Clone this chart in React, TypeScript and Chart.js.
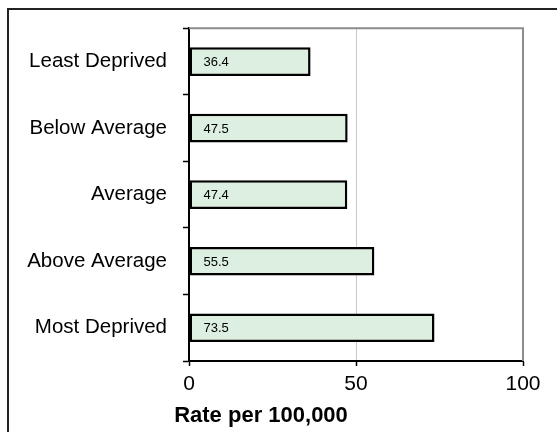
import React, { useEffect, useRef } from 'react';
import { Chart, registerables } from 'chart.js';

Chart.register(...registerables);

const categories = ['Least Deprived', 'Below Average', 'Average', 'Above Average', 'Most Deprived'];
const rates = [36.4, 47.5, 47.4, 55.5, 73.5];
const xTickValues = [0, 50, 100];
const axisTitle = 'Rate per 100,000';

const FONT = '"Liberation Sans", Arial, sans-serif';

const framePlugin = {
  id: 'framePlugin',
  beforeDraw(chart: any) {
    const ctx = chart.ctx;
    ctx.save();
    ctx.fillStyle = '#ffffff';
    ctx.fillRect(0, 0, chart.width, chart.height);
    ctx.strokeStyle = '#222222';
    ctx.lineWidth = 2;
    ctx.beginPath();
    ctx.moveTo(8, chart.height + 2);
    ctx.lineTo(8, 9);
    ctx.lineTo(chart.width + 2, 9);
    ctx.stroke();
    ctx.restore();
  },
  beforeDatasetsDraw(chart: any) {
    const { ctx, chartArea } = chart;
    ctx.save();
    ctx.strokeStyle = '#8c8c8c';
    ctx.lineWidth = 2;
    ctx.beginPath();
    ctx.moveTo(chartArea.left, chartArea.top);
    ctx.lineTo(chartArea.right, chartArea.top);
    ctx.lineTo(chartArea.right, chartArea.bottom);
    ctx.stroke();
    ctx.restore();
  },
  afterDatasetsDraw(chart: any) {
    const { ctx } = chart;
    const meta = chart.getDatasetMeta(0);
    ctx.save();
    ctx.fillStyle = '#000000';
    ctx.font = `13px ${FONT}`;
    ctx.textAlign = 'left';
    ctx.textBaseline = 'middle';
    meta.data.forEach((bar: any, i: number) => {
      const v = chart.data.datasets[0].data[i] as number;
      ctx.fillText(v.toFixed(1), bar.base + 14, bar.y + 1);
    });
    ctx.restore();
  },
  afterDraw(chart: any) {
    const { ctx } = chart;
    ctx.save();
    ctx.fillStyle = '#000000';
    ctx.font = `bold 22px ${FONT}`;
    ctx.textAlign = 'center';
    ctx.textBaseline = 'alphabetic';
    ctx.fillText(axisTitle, 261, 422);
    ctx.restore();
  },
};

export default function App() {
  const canvasRef = useRef<HTMLCanvasElement | null>(null);

  useEffect(() => {
    const canvas = canvasRef.current;
    if (!canvas) return;
    const chart = new Chart(canvas, {
      type: 'bar',
      data: {
        labels: categories,
        datasets: [
          {
            data: rates,
            backgroundColor: '#dcefe0',
            borderColor: '#000000',
            borderWidth: 2.5,
            borderSkipped: false,
            categoryPercentage: 1,
            barPercentage: 0.43,
          },
        ],
      },
      options: {
        indexAxis: 'y',
        animation: false,
        responsive: false,
        maintainAspectRatio: false,
        devicePixelRatio: 1,
        layout: { padding: { top: 22, right: 34, bottom: 0, left: 0 } },
        plugins: {
          legend: { display: false },
          tooltip: { enabled: false },
          title: { display: false },
        },
        scales: {
          y: {
            type: 'category',
            afterFit: (s: any) => {
              s.width = 189;
            },
            grid: {
              offset: true,
              drawOnChartArea: false,
              drawTicks: true,
              tickLength: 6,
              tickColor: '#000000',
              tickWidth: 1.5,
              color: '#000000',
            },
            border: { display: true, color: '#000000', width: 2 },
            ticks: {
              color: '#000000',
              font: { family: FONT, size: 20.5 },
              padding: 16,
            },
          },
          x: {
            type: 'linear',
            min: 0,
            max: 100,
            afterFit: (s: any) => {
              s.height = 71;
            },
            afterBuildTicks: (s: any) => {
              s.ticks = xTickValues.map((v) => ({ value: v }));
            },
            grid: {
              drawOnChartArea: true,
              drawTicks: true,
              tickLength: 5,
              tickColor: '#000000',
              tickWidth: 1.5,
              color: (c: any) =>
                c.tick && c.tick.value === 50 ? '#c8c8c8' : 'rgba(0,0,0,0)',
              lineWidth: 1,
            },
            border: { display: true, color: '#000000', width: 2 },
            ticks: {
              color: '#000000',
              font: { family: FONT, size: 21 },
              padding: 6,
              maxRotation: 0,
            },
          },
        },
      },
      plugins: [framePlugin],
    });
    return () => chart.destroy();
  }, []);

  return (
    <div style={{ position: 'fixed', left: 0, top: 0, width: 557, height: 432, overflow: 'hidden', background: '#fff' }}>
      <canvas ref={canvasRef} width={557} height={432} style={{ width: 557, height: 432, display: 'block' }} />
    </div>
  );
}
